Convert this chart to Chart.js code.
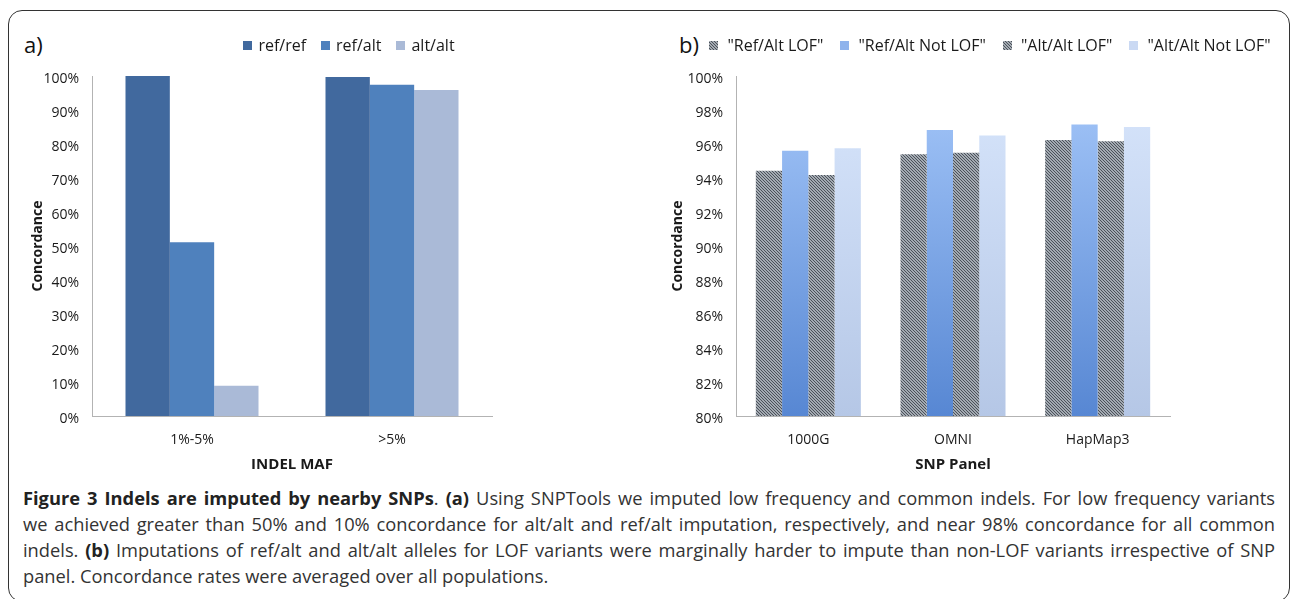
<!DOCTYPE html>
<html>
<head>
<meta charset="utf-8">
<script src="https://cdn.jsdelivr.net/npm/chart.js@4.4.0/dist/chart.umd.min.js"></script>
<style>
  html, body { margin: 0; padding: 0; background: #fff; width: 1290px; height: 599px; overflow: hidden; }
  body { position: relative; font-family: "Open Sans", sans-serif; color: #222; }
  #frame { position: absolute; left: 8px; top: 10px; width: 1282px; height: 592px; box-sizing: border-box;
           border: 1.6px solid #333; border-radius: 14px; }
  .plabel { position: absolute; font-size: 22px; line-height: 26px; color: #111; }
  canvas { position: absolute; }
  #caption { position: absolute; left: 23px; top: 485px; font-size: 18.3px; line-height: 26px; color: #333; }
  #caption .ln { white-space: nowrap; height: 26px; }
  #caption b { color: #222; }
</style>
</head>
<body>
<div id="frame"></div>
<div class="plabel" style="left:24px; top:31px;">a)</div>
<div class="plabel" style="left:679px; top:31px;">b)</div>
<canvas id="chartA" width="660" height="465" style="left:0; top:20px;"></canvas>
<canvas id="chartB" width="630" height="465" style="left:660px; top:20px;"></canvas>
<div id="caption">
  <div class="ln j"><span class="t"><b>Figure 3 Indels are imputed by nearby SNPs</b>. <b>(a)</b> Using SNPTools we imputed low frequency and common indels. For low frequency variants</span></div>
  <div class="ln j"><span class="t">we achieved greater than 50% and 10% concordance for alt/alt and ref/alt imputation, respectively, and near 98% concordance for all common</span></div>
  <div class="ln j"><span class="t">indels. <b>(b)</b> Imputations of ref/alt and alt/alt alleles for LOF variants were marginally harder to impute than non-LOF variants irrespective of SNP</span></div>
  <div class="ln"><span class="t">panel. Concordance rates were averaged over all populations.</span></div>
</div>
<script>
// Panel a: concordance by indel minor allele frequency (percent)
const mafLabels = ['1%-5%', '>5%'];
const refRefPct = [100, 99.7];
const refAltPct = [51.1, 97.4];
const altAltPct = [8.9, 95.9];
const ticksA = [0, 10, 20, 30, 40, 50, 60, 70, 80, 90, 100];

// Panel b: concordance by SNP panel (percent)
const panelLabels = ['1000G', 'OMNI', 'HapMap3'];
const refAltLof = [94.43, 95.39, 96.24];
const refAltNotLof = [95.6, 96.82, 97.14];
const altAltLof = [94.18, 95.49, 96.16];
const altAltNotLof = [95.75, 96.5, 97.0];
const ticksB = [80, 82, 84, 86, 88, 90, 92, 94, 96, 98, 100];

const FONT = '"Open Sans", sans-serif';
const INK = '#1a1a1a';
const AXIS = '#b3b3b3';

// fine 1px diagonal hatch used for the LOF series
function hatch(light, dark, dir) {
  const n = 3;
  const c = document.createElement('canvas');
  c.width = n; c.height = n;
  const g = c.getContext('2d');
  g.fillStyle = light; g.fillRect(0, 0, n, n);
  g.fillStyle = dark;
  for (let y = 0; y < n; y++) {
    for (let x = 0; x < n; x++) {
      const k = (((dir > 0 ? x - y : x + y) % n) + n) % n;
      if (k === 0) g.fillRect(x, y, 1, 1);
    }
  }
  return g.createPattern(c, 'repeat');
}

// vertical gradient spanning the plot area
function vGradient(top, bottom) {
  return (ctx) => {
    const chart = ctx.chart;
    const a = chart.chartArea;
    if (!a) return bottom;
    const g = chart.ctx.createLinearGradient(0, a.top, 0, a.bottom);
    g.addColorStop(0, top);
    g.addColorStop(1, bottom);
    return g;
  };
}

// single-row legend drawn above the plot
const rowLegend = {
  id: 'rowLegend',
  afterDraw(chart, args, o) {
    const ctx = chart.ctx;
    ctx.save();
    ctx.font = o.font;
    const items = chart.data.datasets.map(ds => ({ text: ds.label, fill: ds.legendFill }));
    const widths = items.map(it => o.box + o.gap + ctx.measureText(it.text).width);
    const total = widths.reduce((s, w) => s + w, 0) + o.spacing * (items.length - 1);
    let x = o.centerX - total / 2;
    items.forEach((it, i) => {
      ctx.fillStyle = it.fill;
      ctx.fillRect(Math.round(x), Math.round(o.y - o.box / 2), o.box, o.box);
      ctx.fillStyle = o.color;
      ctx.textAlign = 'left';
      ctx.textBaseline = 'middle';
      ctx.fillText(it.text, x + o.box + o.gap, o.y + 1);
      x += widths[i] + o.spacing;
    });
    ctx.restore();
  }
};

function axes(ticks, min, max, xTitle, yWidth) {
  return {
    x: {
      grid: { display: false, drawTicks: false },
      border: { color: AXIS, width: 1 },
      ticks: { font: { family: FONT, size: 14 }, color: INK, padding: 16 },
      title: { display: true, text: xTitle, color: INK, font: { family: FONT, size: 15, weight: 'bold' }, padding: { top: 0, bottom: 2 } },
      afterFit(s) { s.height = 60; }
    },
    y: {
      min: min, max: max,
      grid: { display: false, drawTicks: false },
      border: { color: AXIS, width: 1 },
      afterBuildTicks(s) { s.ticks = ticks.map(v => ({ value: v })); },
      ticks: { font: { family: FONT, size: 14 }, color: INK, padding: 13, labelOffset: 3, callback: v => v + '%' },
      title: { display: true, text: 'Concordance', color: INK, font: { family: FONT, size: 14, weight: 'bold' }, padding: { top: 4, bottom: 4 } },
      afterFit(s) { s.width = yWidth; }
    }
  };
}

new Chart(document.getElementById('chartA'), {
  type: 'bar',
  data: {
    labels: mafLabels,
    datasets: [
      { label: 'ref/ref', data: refRefPct, backgroundColor: '#41699e', legendFill: '#41699e' },
      { label: 'ref/alt', data: refAltPct, backgroundColor: '#4f81bd', legendFill: '#4f81bd' },
      { label: 'alt/alt', data: altAltPct, backgroundColor: '#aabad7', legendFill: '#aabad7' }
    ]
  },
  options: {
    responsive: false,
    animation: false,
    layout: { padding: { left: 26, right: 168, top: 56, bottom: 9 } },
    datasets: { bar: { categoryPercentage: 0.665, barPercentage: 1 } },
    plugins: {
      legend: { display: false },
      tooltip: { enabled: false },
      rowLegend: { font: '16px ' + FONT, color: INK, box: 9, gap: 6, spacing: 15, centerX: 349, y: 25 }
    },
    scales: axes(ticksA, 0, 100, 'INDEL MAF', 66)
  },
  plugins: [rowLegend]
});

const lofA = hatch('#a3aab2', '#4b5159', 1);
const lofB = hatch('#a3aab2', '#4b5159', 1);

new Chart(document.getElementById('chartB'), {
  type: 'bar',
  data: {
    labels: panelLabels,
    datasets: [
      { label: '"Ref/Alt LOF"', data: refAltLof, backgroundColor: lofA, legendFill: lofA },
      { label: '"Ref/Alt Not LOF"', data: refAltNotLof, backgroundColor: vGradient('#a6c8fa', '#5787d3'), legendFill: '#8fb3ec' },
      { label: '"Alt/Alt LOF"', data: altAltLof, backgroundColor: lofB, legendFill: lofB },
      { label: '"Alt/Alt Not LOF"', data: altAltNotLof, backgroundColor: vGradient('#d8e6fc', '#b5c7e6'), legendFill: '#cad9f3' }
    ]
  },
  options: {
    responsive: false,
    animation: false,
    layout: { padding: { left: 6, right: 120, top: 56, bottom: 9 } },
    datasets: { bar: { categoryPercentage: 0.726, barPercentage: 1 } },
    plugins: {
      legend: { display: false },
      tooltip: { enabled: false },
      rowLegend: { font: '16px ' + FONT, color: INK, box: 9, gap: 9, spacing: 17, centerX: 330, y: 25 }
    },
    scales: axes(ticksB, 80, 100, 'SNP Panel', 70)
  },
  plugins: [rowLegend]
});

// justify the caption lines to a common right edge
function justifyCaption() {
  const target = 1252;
  document.querySelectorAll('#caption .ln.j').forEach(el => {
    const span = el.querySelector('.t');
    span.style.wordSpacing = '0px';
    const w = span.getBoundingClientRect().width;
    const gaps = (span.textContent.match(/ /g) || []).length;
    if (gaps) span.style.wordSpacing = ((target - w) / gaps).toFixed(3) + 'px';
  });
}
justifyCaption();
if (document.fonts && document.fonts.ready) document.fonts.ready.then(justifyCaption);
</script>
</body>
</html>
